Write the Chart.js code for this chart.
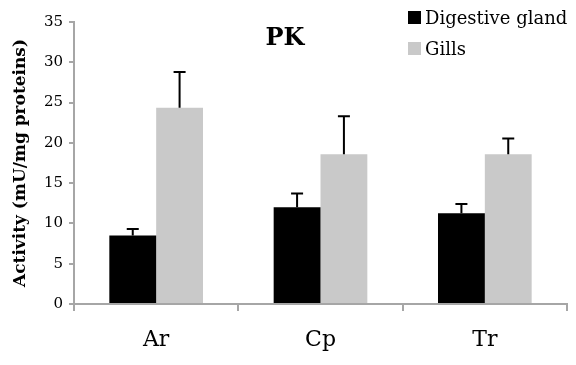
<!DOCTYPE html>
<html>
<head>
<meta charset="utf-8">
<script src="https://cdn.jsdelivr.net/npm/chart.js@4/dist/chart.umd.min.js"></script>
<style>
  html, body { margin: 0; padding: 0; background: #fff; }
  #wrap { width: 576px; height: 365px; }
</style>
</head>
<body>
<div id="wrap"><canvas id="pk-chart" width="576" height="365"></canvas></div>
<script>
// values
const sites = ['Ar', 'Cp', 'Tr'];
const digestiveGland = [8.5, 12.0, 11.25];
const digestiveGlandErr = [0.8, 1.7, 1.15];
const gills = [24.35, 18.6, 18.6];
const gillsErr = [4.45, 4.7, 1.95];
const yTicks = [0, 5, 10, 15, 20, 25, 30, 35];

const AXIS_GREY = '#a6a6a6';
const SERIF = '"DejaVu Serif", serif';

// upward-only error bars with a cap, drawn on top of each bar
const errorBars = {
    id: 'errorBars',
    afterDatasetsDraw(chart) {
        const { ctx } = chart;
        const yScale = chart.scales.y;
        ctx.save();
        ctx.strokeStyle = '#000';
        ctx.lineWidth = 2;
        chart.data.datasets.forEach((ds, i) => {
            const meta = chart.getDatasetMeta(i);
            meta.data.forEach((bar, j) => {
                const top = yScale.getPixelForValue(ds.data[j] + ds.errors[j]);
                ctx.beginPath();
                ctx.moveTo(bar.x, bar.y);
                ctx.lineTo(bar.x, top);
                ctx.moveTo(bar.x - 6, top);
                ctx.lineTo(bar.x + 6, top);
                ctx.stroke();
            });
        });
        ctx.restore();
    }
};

// title and stacked legend sit inside the plot area, so draw them by hand
const overlay = {
    id: 'overlay',
    afterDraw(chart) {
        const { ctx } = chart;
        ctx.save();
        ctx.fillStyle = '#000';
        ctx.font = 'bold 24px ' + SERIF;
        ctx.textAlign = 'center';
        ctx.textBaseline = 'alphabetic';
        ctx.fillText('PK', 285, 45);

        ctx.font = '18px ' + SERIF;
        ctx.textAlign = 'left';
        chart.data.datasets.forEach((ds, i) => {
            const base = 24 + i * 31;
            ctx.fillStyle = ds.backgroundColor;
            ctx.fillRect(408, base - 13, 13, 13);
            ctx.fillStyle = '#000';
            ctx.fillText(ds.label, 425, base);
        });
        ctx.restore();
    }
};

new Chart(document.getElementById('pk-chart'), {
    type: 'bar',
    data: {
        labels: sites,
        datasets: [{
            label: 'Digestive gland',
            data: digestiveGland,
            errors: digestiveGlandErr,
            backgroundColor: '#000000',
        }, {
            label: 'Gills',
            data: gills,
            errors: gillsErr,
            backgroundColor: '#c9c9c9',
        }],
    },
    plugins: [errorBars, overlay],
    options: {
        responsive: false,
        animation: false,
        events: [],
        layout: { padding: { top: 22, right: 9, left: 0, bottom: 0 } },
        datasets: { bar: { categoryPercentage: 0.57, barPercentage: 1.0 } },
        plugins: {
            legend: { display: false },
            title: { display: false },
            tooltip: { enabled: false },
        },
        scales: {
            x: {
                afterFit: s => { s.height = 61; },
                grid: {
                    offset: true,
                    drawOnChartArea: false,
                    drawTicks: true,
                    tickLength: 7,
                    color: AXIS_GREY,
                    lineWidth: 2,
                },
                border: { color: AXIS_GREY, width: 2 },
                ticks: {
                    color: '#000',
                    font: { family: SERIF, size: 22 },
                    padding: 16,
                },
            },
            y: {
                min: 0,
                max: 35,
                afterFit: s => { s.width = 74; },
                afterBuildTicks: s => { s.ticks = yTicks.map(v => ({ value: v })); },
                grid: {
                    drawOnChartArea: false,
                    drawTicks: true,
                    tickLength: 5,
                    color: AXIS_GREY,
                    lineWidth: 2,
                },
                border: { color: AXIS_GREY, width: 2 },
                ticks: {
                    color: '#000',
                    font: { family: SERIF, size: 15 },
                    padding: 6,
                },
                title: {
                    display: true,
                    text: 'Activity (mU/mg proteins)',
                    color: '#000',
                    font: { family: SERIF, size: 17, weight: 'bold' },
                    padding: { top: 10, bottom: 4 },
                },
            },
        },
    },
});
</script>
</body>
</html>
